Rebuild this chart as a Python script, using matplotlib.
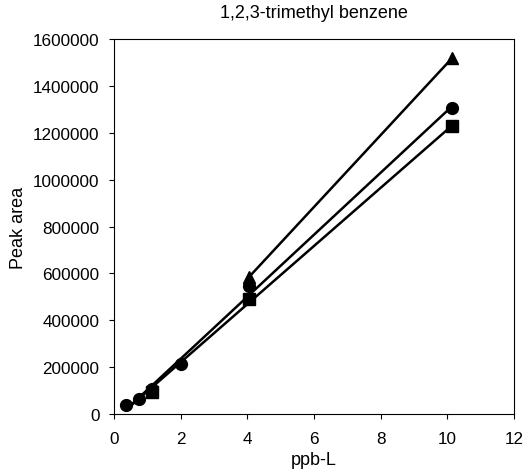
import numpy as np
import matplotlib
matplotlib.use("Agg")
import matplotlib.pyplot as plt

plt.rcParams['font.family'] = ['Liberation Sans', 'DejaVu Sans']

title = "1,2,3-trimethyl benzene"
circle_x = [0.35, 0.75, 1.15, 2.0, 4.05, 10.15]
circle_y = [38000, 62000, 105000, 212000, 548000, 1305000]
square_x = [0.35, 0.75, 1.15, 2.0, 4.05, 10.15]
square_y = [38000, 62000, 95000, 212000, 490000, 1230000]
square_shown = [2, 4, 5]
tri_x = [4.05, 10.15]
tri_y = [585000, 1520000]
xticks = [0, 2, 4, 6, 8, 10, 12]
yticks = [0, 200000, 400000, 600000, 800000, 1000000, 1200000, 1400000, 1600000]

fig = plt.figure(figsize=(5.31, 4.77), dpi=100)
ax = fig.add_axes([0.215, 0.130, 0.753, 0.786])

series = [
    (square_x, square_y, 's', 8, square_shown),
    (circle_x, circle_y, 'o', 8.5, None),
    (tri_x, tri_y, '^', 8.5, None),
]
for xs, ys, m, ms, every in series:
    xs = np.array(xs); ys = np.array(ys)
    k, b = np.polyfit(xs, ys, 1)
    xl = np.array([xs.min(), xs.max()])
    ax.plot(xl, k * xl + b, color='black', lw=1.8, zorder=2)
    ax.plot(xs, ys, linestyle='none', marker=m, color='black',
            markersize=ms, markevery=every, zorder=3)

ax.set_xlim(0, 12)
ax.set_ylim(0, 1600000)
ax.set_xticks(xticks)
ax.set_yticks(yticks)
ax.set_xticklabels([str(v) for v in xticks], fontsize=12.3)
ax.set_yticklabels([str(v) for v in yticks], fontsize=12.3)
ax.tick_params(direction='out', length=3.6, width=0.8)
ax.tick_params(axis='x', pad=9)
ax.tick_params(axis='y', pad=7)
ax.set_xlabel('ppb-L', fontsize=13, labelpad=3)
ax.set_ylabel('Peak area', fontsize=13, labelpad=4)
ax.set_title(title, fontsize=13, pad=16)
for s in ax.spines.values():
    s.set_linewidth(0.8)

fig.savefig('out.png', dpi=100)
